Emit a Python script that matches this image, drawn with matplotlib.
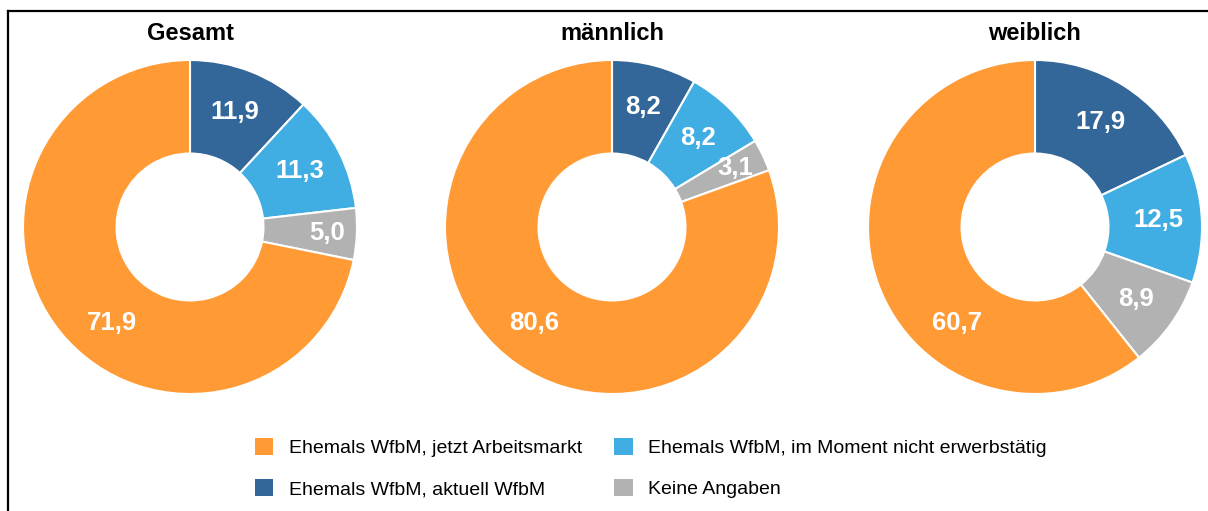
import matplotlib
matplotlib.use("Agg")
import matplotlib.pyplot as plt
from matplotlib.patches import Patch
from matplotlib.lines import Line2D
import numpy as np

plt.rcParams["font.family"] = ["Liberation Sans", "DejaVu Sans"]

W, H = 1208, 511

# Daten
titles = ["Gesamt", "männlich", "weiblich"]
categories = ["Ehemals WfbM, aktuell WfbM",
              "Ehemals WfbM, im Moment nicht erwerbstätig",
              "Keine Angaben",
              "Ehemals WfbM, jetzt Arbeitsmarkt"]
gesamt = [11.9, 11.3, 5.0, 71.9]
maennlich = [8.2, 8.2, 3.1, 80.6]
weiblich = [17.9, 12.5, 8.9, 60.7]
series = [gesamt, maennlich, weiblich]

# Farben
DARKBLUE = "#336699"
LIGHTBLUE = "#41AEE3"
GRAY = "#B2B2B2"
ORANGE = "#FF9A35"
colors = [DARKBLUE, LIGHTBLUE, GRAY, ORANGE]

fig = plt.figure(figsize=(W / 100, H / 100), dpi=100)

centers_x = [190, 612, 1035]
center_y = 227
R = 167
hole = 0.44

for cx, title, vals in zip(centers_x, titles, series):
    ax = fig.add_axes([(cx - R) / W, (H - center_y - R) / H, 2 * R / W, 2 * R / H])
    wedges, _ = ax.pie(vals, colors=colors, startangle=90, counterclock=False,
                       radius=1.0,
                       wedgeprops=dict(width=1 - hole, edgecolor="white", linewidth=1.5))
    ax.set_xlim(-1, 1)
    ax.set_ylim(-1, 1)
    ax.set_aspect("equal")
    ax.axis("off")

    # Beschriftungen
    for i, (w, v) in enumerate(zip(wedges, vals)):
        lab = f"{v:.1f}".replace(".", ",")
        if i == 3:
            x, y = -0.465, -0.575
        else:
            ang = np.deg2rad((w.theta1 + w.theta2) / 2)
            r = 0.74 if v > 6 else 0.82
            x, y = r * np.cos(ang), r * np.sin(ang)
        ax.text(x, y, lab, ha="center", va="center", color="white",
                fontsize=18.5, fontweight="bold")

    fig.text(cx / W, 1 - 34 / H, title, ha="center", va="center",
             fontsize=17, fontweight="bold", color="black")

# Legende
order = [3, 0, 1, 2]
handles = [Patch(facecolor=colors[i], edgecolor="none") for i in order]
labels = [categories[i] for i in order]
fig.legend(handles, labels, ncol=2, loc="upper left",
           bbox_to_anchor=(255 / W, 1 - 438 / H), frameon=False,
           fontsize=14, handlelength=0.95, handleheight=0.95,
           handletextpad=0.8, labelspacing=1.15, columnspacing=1.65,
           borderpad=0, borderaxespad=0)

# Rahmen
fig.add_artist(Line2D([8 / W, 8 / W], [0, 1 - 11 / H], transform=fig.transFigure,
                      color="black", lw=1.6))
fig.add_artist(Line2D([8 / W, 1], [1 - 11 / H, 1 - 11 / H], transform=fig.transFigure,
                      color="black", lw=1.6))

fig.savefig("out.png", dpi=100)
